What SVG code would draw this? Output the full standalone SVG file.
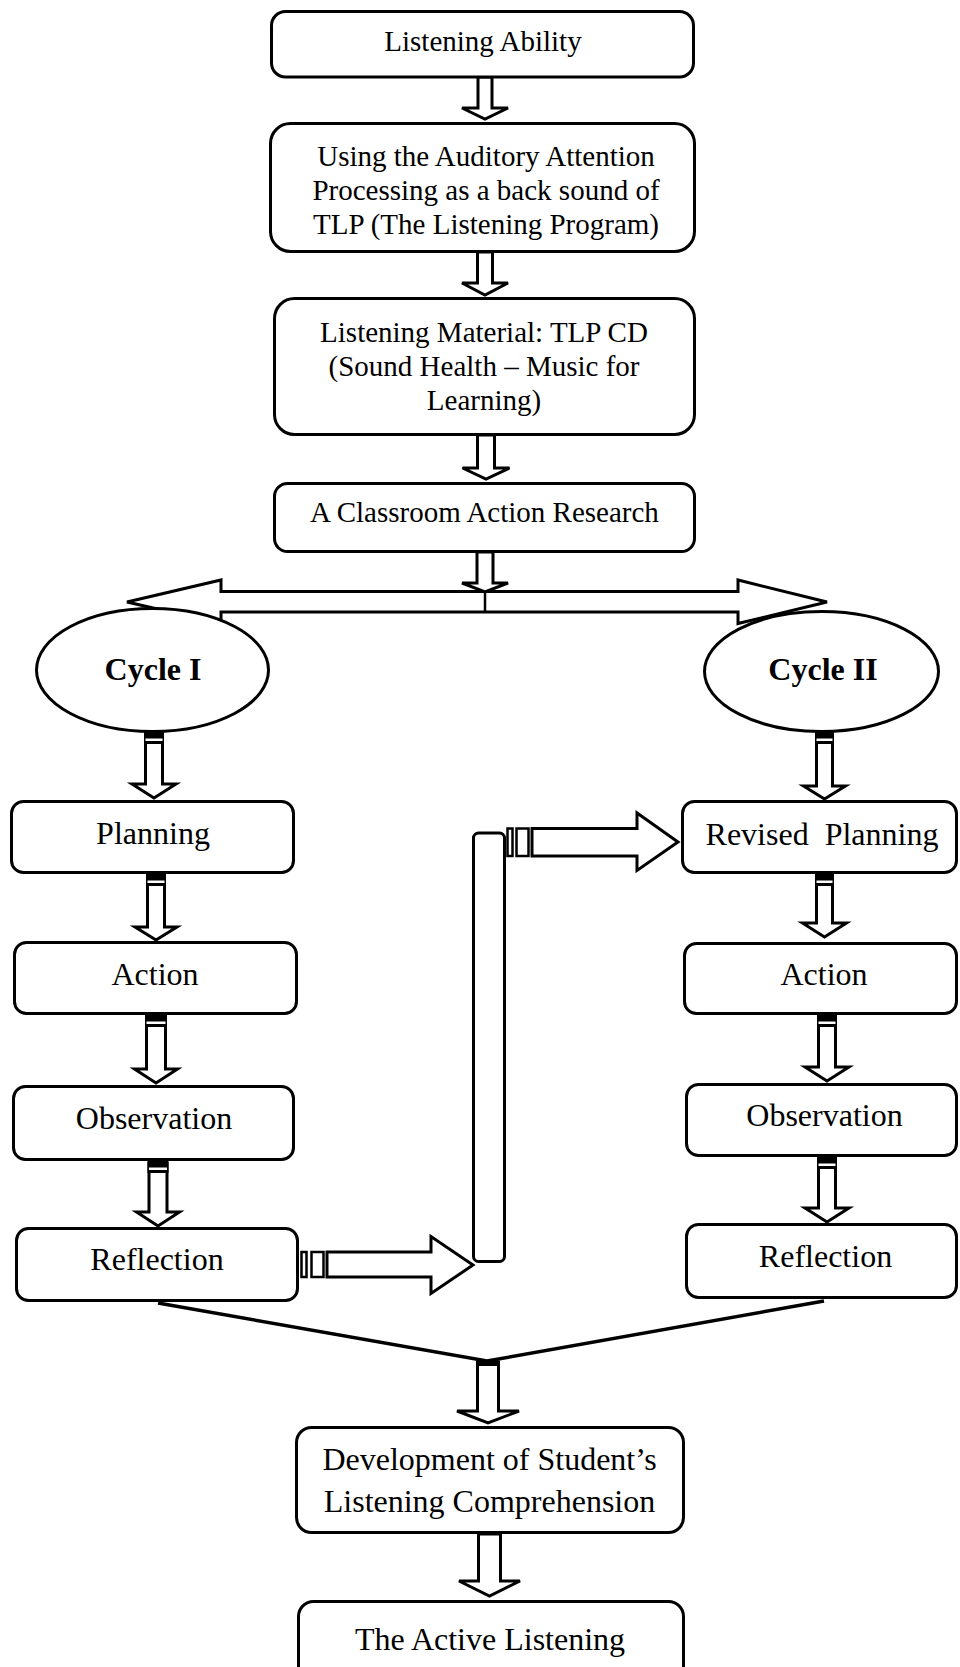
<svg xmlns="http://www.w3.org/2000/svg" width="960" height="1667" viewBox="0 0 960 1667">
<style>
.box{fill:#fff;stroke:#000;stroke-width:3}
.arr{fill:#fff;stroke:#000;stroke-width:3;stroke-linejoin:miter}
.ln{fill:none;stroke:#000;stroke-width:3.5}
.t{font-family:"Liberation Serif","Times New Roman",serif;fill:#000;text-anchor:middle}
.s{font-size:29px}
.b{font-size:32px}
.bold{font-size:32px;font-weight:bold}
.cap{fill:#000}
.gap{fill:#fff}
.st{fill:#fff;stroke:#000;stroke-width:2.5}
</style>
<rect width="960" height="1667" fill="#fff"/>

<g id="connectors">
  <!-- top chain -->
  <polygon class="arr" points="478,77 492,77 492,108 508,108 485,119 462,108 478,108"/>
  <polygon class="arr" points="477.5,252 492.5,252 492.5,283 508,283 485,295 462,283 477.5,283"/>
  <polygon class="arr" points="477.5,435 494.5,435 494.5,468 509.5,468 486,479 462.5,468 477.5,468"/>
  <!-- double headed horizontal -->
  <polygon class="arr" points="127,602 221,580 221,591.5 738,591.5 738,580 827,602 738,623.5 738,612 221,612 221,623.5"/>
  <line x1="485" y1="592" x2="485" y2="612" stroke="#000" stroke-width="2.5"/>
  <polygon class="arr" points="477,552 493,552 493,583 508,583 485,592 462,583 477,583"/>

  <!-- left column -->
  <polygon class="arr" points="145.5,733 162.5,733 162.5,784 176,784 154,798 132,784 145.5,784"/>
  <rect class="cap" x="144" y="733" width="20" height="11"/><rect class="gap" x="145.5" y="738.5" width="17" height="2.5"/>
  <polygon class="arr" points="147.5,874 164.5,874 164.5,927 177,927 156,940 135,927 147.5,927"/>
  <rect class="cap" x="146" y="875" width="20" height="11"/><rect class="gap" x="147.5" y="880.5" width="17" height="2.5"/>
  <polygon class="arr" points="146.5,1015 165.5,1015 165.5,1069 177.5,1069 156,1083 134.5,1069 146.5,1069"/>
  <rect class="cap" x="145" y="1016" width="22" height="11"/><rect class="gap" x="146.5" y="1021.5" width="19" height="2.5"/>
  <polygon class="arr" points="149,1161 167,1161 167,1212 179.5,1212 158,1226 136.5,1212 149,1212"/>
  <rect class="cap" x="147.5" y="1162" width="21" height="11"/><rect class="gap" x="149" y="1167.5" width="18" height="2.5"/>

  <!-- right column -->
  <polygon class="arr" points="816.5,733 832.5,733 832.5,786 845.5,786 824.5,799 803.5,786 816.5,786"/>
  <rect class="cap" x="815" y="733" width="19" height="11"/><rect class="gap" x="816.5" y="738.5" width="16" height="2.5"/>
  <polygon class="arr" points="816.5,874 832.5,874 832.5,923 846.5,923 824.5,937 802.5,923 816.5,923"/>
  <rect class="cap" x="815" y="875" width="19" height="11"/><rect class="gap" x="816.5" y="880.5" width="16" height="2.5"/>
  <polygon class="arr" points="818.5,1015 835.5,1015 835.5,1067 849,1067 827,1081 805,1067 818.5,1067"/>
  <rect class="cap" x="817" y="1016" width="20" height="11"/><rect class="gap" x="818.5" y="1021.5" width="17" height="2.5"/>
  <polygon class="arr" points="818.5,1157 835.5,1157 835.5,1208 849,1208 827,1222 805,1208 818.5,1208"/>
  <rect class="cap" x="817" y="1158" width="20" height="11"/><rect class="gap" x="818.5" y="1163.5" width="17" height="2.5"/>

  <!-- loop from Reflection I to Revised Planning -->
  <rect class="arr" x="473.5" y="833" width="31" height="428.5" rx="5"/>
  <rect class="st" x="301.5" y="1252" width="5" height="25"/>
  <rect class="st" x="311.5" y="1252" width="12" height="25"/>
  <polygon class="arr" points="327,1252 431,1252 431,1236.5 473,1265 431,1293.5 431,1277 327,1277"/>
  <rect class="st" x="507.5" y="828.5" width="5" height="27.5"/>
  <rect class="st" x="516.5" y="828.5" width="12" height="27.5"/>
  <polygon class="arr" points="532,828.5 637,828.5 637,813 678,842 637,870.5 637,856 532,856"/>

  <!-- converging lines -->
  <polyline class="ln" points="158,1303 487,1361 824,1301"/>
  <polygon class="arr" points="477.5,1362 498.5,1362 498.5,1411 519,1411 488,1423 457,1411 477.5,1411"/>
  <rect class="cap" x="476" y="1362" width="24" height="4"/>
  <polygon class="arr" points="478.5,1534 500.5,1534 500.5,1581 520,1581 489.5,1596 459,1581 478.5,1581"/>
</g>

<g id="n-listening-ability">
  <rect class="box" x="271.5" y="11.5" width="422" height="65.5" rx="14"/>
  <text class="t s" x="483" y="51">Listening Ability</text>
</g>
<g id="n-using-auditory">
  <rect class="box" x="270.5" y="123.5" width="424" height="128" rx="20"/>
  <text class="t s" x="486" y="166">Using the Auditory Attention</text>
  <text class="t s" x="486" y="200">Processing as a back sound of</text>
  <text class="t s" x="486" y="234">TLP (The Listening Program)</text>
</g>
<g id="n-material">
  <rect class="box" x="274.5" y="298.5" width="420" height="136" rx="20"/>
  <text class="t s" x="484" y="342">Listening Material: TLP CD</text>
  <text class="t s" x="484" y="376">(Sound Health – Music for</text>
  <text class="t s" x="484" y="410">Learning)</text>
</g>
<g id="n-car">
  <rect class="box" x="274.5" y="483.5" width="420" height="68" rx="13"/>
  <text class="t s" x="484.5" y="522">A Classroom Action Research</text>
</g>

<g id="n-cycle1">
  <ellipse class="box" cx="152.5" cy="670" rx="116" ry="61.5"/>
  <text class="t bold" x="153" y="680">Cycle I</text>
</g>
<g id="n-cycle2">
  <ellipse class="box" cx="821.5" cy="671.5" rx="117" ry="60"/>
  <text class="t bold" x="823" y="680">Cycle II</text>
</g>

<g id="n-planning">
  <rect class="box" x="11.5" y="801.5" width="282" height="71" rx="12"/>
  <text class="t b" x="153" y="844">Planning</text>
</g>
<g id="n-action1">
  <rect class="box" x="14.5" y="942.5" width="282" height="71" rx="12"/>
  <text class="t b" x="155" y="985">Action</text>
</g>
<g id="n-observation1">
  <rect class="box" x="13.5" y="1086.5" width="280" height="73" rx="12"/>
  <text class="t b" x="154" y="1129">Observation</text>
</g>
<g id="n-reflection1">
  <rect class="box" x="16.5" y="1228.5" width="281" height="72" rx="12"/>
  <text class="t b" x="157" y="1270">Reflection</text>
</g>

<g id="n-revised-planning">
  <rect class="box" x="682.5" y="801.5" width="274" height="71" rx="12"/>
  <text class="t b" x="822" y="845" xml:space="preserve" style="white-space:pre">Revised  Planning</text>
</g>
<g id="n-action2">
  <rect class="box" x="684.5" y="943.5" width="272" height="70" rx="12"/>
  <text class="t b" x="824" y="985">Action</text>
</g>
<g id="n-observation2">
  <rect class="box" x="686.5" y="1084.5" width="270" height="71" rx="12"/>
  <text class="t b" x="824.5" y="1126">Observation</text>
</g>
<g id="n-reflection2">
  <rect class="box" x="686.5" y="1224.5" width="270" height="73" rx="12"/>
  <text class="t b" x="825.5" y="1267">Reflection</text>
</g>

<g id="n-development">
  <rect class="box" x="296.5" y="1427.5" width="387" height="105" rx="15"/>
  <text class="t b" x="489.5" y="1470">Development of Student’s</text>
  <text class="t b" x="489.5" y="1512">Listening Comprehension</text>
</g>
<g id="n-active">
  <rect class="box" x="298.5" y="1601.5" width="385" height="90" rx="15"/>
  <text class="t b" x="490" y="1650">The Active Listening</text>
</g>
</svg>
